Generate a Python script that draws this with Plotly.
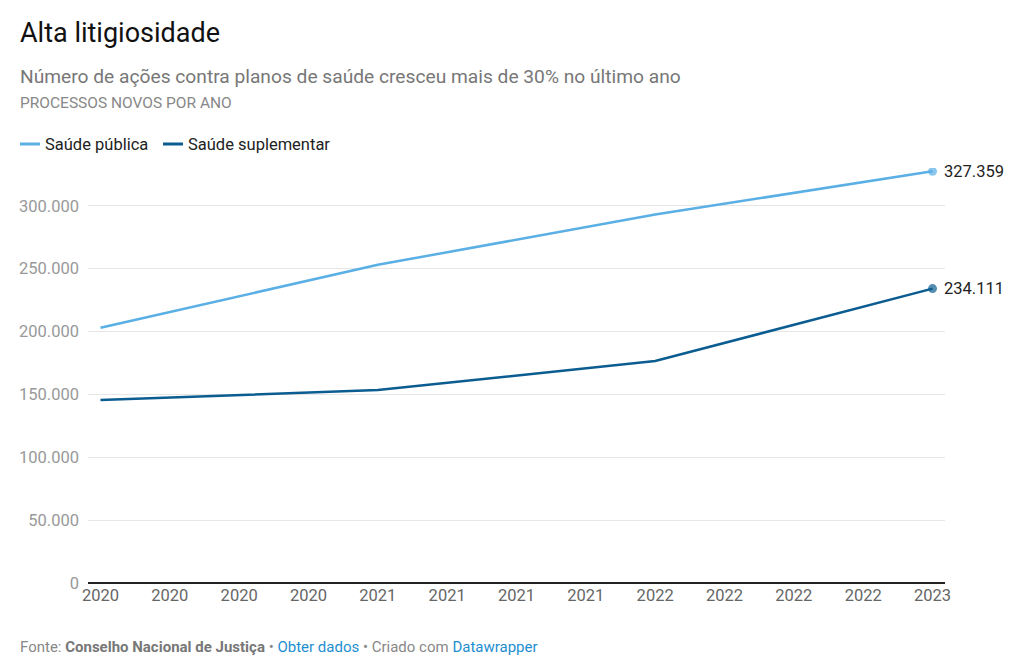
import plotly.graph_objects as go

tick_labels = ["2020", "2020", "2020", "2020", "2021", "2021", "2021", "2021",
               "2022", "2022", "2022", "2022", "2023"]
x_pos = [0, 4, 8, 12]
series_names = ["Saúde pública", "Saúde suplementar"]
saude_publica = [203000, 253000, 293000, 327359]
saude_suplementar = [145500, 153500, 176500, 234111]

c_pub = "#5AAFE5"
c_sup = "#0B5C91"

OFF = 8  # page offset of the figure in the browser window
W, H = 1023 - OFF, 666 - OFF
L, R, T, B = 88 - OFF, 78, 168 - OFF, 83
pw, ph = W - L - R, H - T - B

def px(x):
    return (x - OFF - L) / pw

def py(y):
    return (H - B - (y - OFF)) / ph

fig = go.Figure()
for name, vals, col in ((series_names[0], saude_publica, c_pub), (series_names[1], saude_suplementar, c_sup)):
    fig.add_trace(go.Scatter(x=x_pos, y=vals, name=name, mode="lines+markers",
                             line=dict(color=col, width=2.5), showlegend=False,
                             marker=dict(size=[0, 0, 0, 9], color=col, line=dict(width=0))))

ann = []
for vals in (saude_publica, saude_suplementar):
    v = vals[-1]
    ann.append(dict(x=x_pos[-1], y=v, xref="x", yref="y", xanchor="left", yanchor="middle",
                    xshift=9, text=f"{v:,}".replace(",", "."), showarrow=False,
                    font=dict(size=16.5, color="#222", family="Roboto")))

ann += [
    dict(x=px(18), y=py(33), text="Alta litigiosidade", font=dict(size=27, color="#111", family="Roboto")),
    dict(x=px(18), y=py(77), text="Número de ações contra planos de saúde cresceu mais de 30% no último ano",
         font=dict(size=19.2, color="#777", family="Roboto")),
    dict(x=px(18), y=py(103), text="PROCESSOS NOVOS POR ANO", font=dict(size=15.5, color="#888", family="Roboto")),
    dict(x=px(18), y=py(647),
         text="Fonte: <b style='color:#777'>Conselho Nacional de Justiça</b> • "
              "<span style='color:#1D8ECF'>Obter dados</span> • Criado com "
              "<span style='color:#1D8ECF'>Datawrapper</span>",
         font=dict(size=15, color="#888", family="Roboto")),
    dict(x=px(43), y=py(144), text=series_names[0], font=dict(size=16.5, color="#222", family="Roboto")),
    dict(x=px(186), y=py(144), text=series_names[1], font=dict(size=16.5, color="#222", family="Roboto")),
]
for a in ann[2:]:
    a.update(xref="paper", yref="paper", xanchor="left", yanchor="middle", showarrow=False)

shapes = [
    dict(type="line", xref="paper", yref="paper", x0=px(20), x1=px(40), y0=py(144), y1=py(144),
         line=dict(color=c_pub, width=3)),
    dict(type="line", xref="paper", yref="paper", x0=px(163), x1=px(183), y0=py(144), y1=py(144),
         line=dict(color=c_sup, width=3)),
]

fig.update_layout(
    width=W, height=H,
    margin=dict(l=L, r=R, t=T, b=B, autoexpand=False),
    paper_bgcolor="white", plot_bgcolor="white",
    separators=",.",
    font=dict(family="Roboto"),
    showlegend=False,
    annotations=ann,
    shapes=shapes,
    xaxis=dict(range=[-0.18, 12.18], tickmode="array", tickvals=list(range(len(tick_labels))),
               ticktext=tick_labels, showgrid=False, zeroline=False, showline=False, automargin=False,
               tickfont=dict(size=16.5, color="#666"), ticks="", ticklen=0, fixedrange=True),
    yaxis=dict(range=[0, 330000], tickvals=[0, 50000, 100000, 150000, 200000, 250000, 300000],
               tickformat=",d", showgrid=True, gridcolor="#e6e6e6", gridwidth=1, automargin=False,
               zeroline=True, zerolinecolor="#222", zerolinewidth=1.5,
               tickfont=dict(size=16.5, color="#999"), ticks="", ticklabelstandoff=8, fixedrange=True),
)

fig.write_html("out.html")
